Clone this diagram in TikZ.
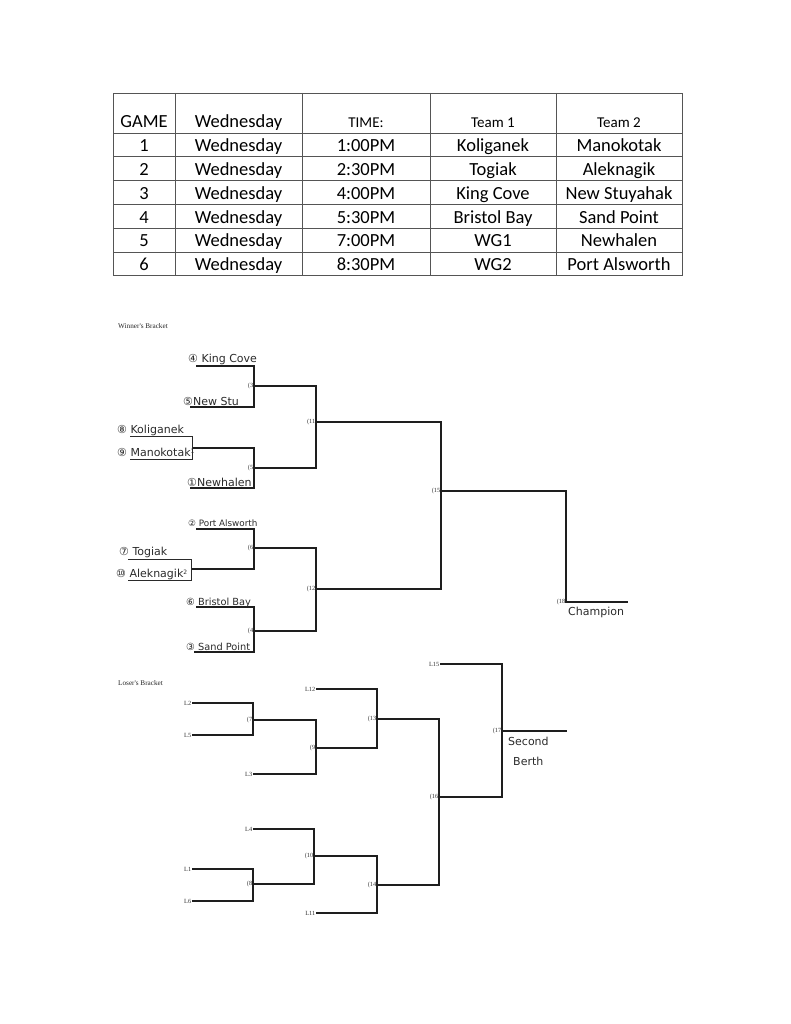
\documentclass[tikz,border=0pt]{standalone}
\usepackage{fontspec}
\setmainfont{Carlito}
\newfontfamily\handfont{DejaVu Sans}
\newfontfamily\tinyserif{Liberation Serif}
\definecolor{tblline}{HTML}{555555}
\definecolor{brline}{HTML}{1E1E1E}
\definecolor{handink}{HTML}{2A2A2A}
\begin{document}
\begin{tikzpicture}[x=1pt,y=-1pt,
  tbl/.style={draw=tblline,line width=0.8pt},
  cell/.style={anchor=base,inner sep=0pt,font=\fontsize{18.5}{20}\selectfont},
  hcell/.style={anchor=base,inner sep=0pt,font=\fontsize{15}{17}\selectfont},
  br/.style={draw=brline,line width=1.1pt},
  hl/.style={draw=handink,line width=0.8pt},
  gl/.style={anchor=east,inner sep=0.6pt,font=\tinyserif\fontsize{6.3}{7}\selectfont,text=black!80},
  hand/.style={anchor=base west,inner sep=0pt,text=handink,font=\handfont\fontsize{11}{12}\selectfont},
  ttl/.style={anchor=west,inner sep=0pt,font=\tinyserif\fontsize{7.2}{8}\selectfont,text=black!85}]
\useasboundingbox (0,0) rectangle (791,1024);
% ---------- table ----------
\draw[tbl] (113,93) rectangle (682,275.5);
\foreach \x in {175,302,430,556} \draw[tbl] (\x,93) -- (\x,275.5);
\foreach \y in {133,156.5,180,204,228,252} \draw[tbl] (113,\y) -- (682,\y);
\node[cell] (h1) at (144,128) {GAME};
\node[cell] (h2) at (238.5,128) {Wednesday};
\node[hcell] (h3) at (366,128) {TIME:};
\node[hcell] (h4) at (493,128) {Team 1};
\node[hcell] (h5) at (619,128) {Team 2};
\foreach \n/\t/\a/\b [count=\i] in {1/1:00PM/Koliganek/Manokotak,2/2:30PM/Togiak/Aleknagik,3/4:00PM/King Cove/New Stuyahak,4/5:30PM/Bristol Bay/Sand Point,5/7:00PM/WG1/Newhalen,6/8:30PM/WG2/Port Alsworth}{
  \pgfmathsetmacro{\yb}{152+23.75*(\i-1)}
  \node[cell] (r\i a) at (144,\yb) {\n};
  \node[cell] (r\i b) at (238.5,\yb) {Wednesday};
  \node[cell] (r\i c) at (366,\yb) {\t};
  \node[cell] (r\i d) at (493,\yb) {\a};
  \node[cell] (r\i e) at (619,\yb) {\b};
}
% ---------- winner's bracket ----------
\node[ttl] (wt) at (118,326) {Winner's Bracket};
\coordinate (g3) at (254,386);
\coordinate (g5) at (254,468);
\coordinate (g11) at (316,422);
\coordinate (g6) at (254,548);
\coordinate (g4) at (254,631);
\coordinate (g12) at (316,589);
\coordinate (g15) at (441,491);
\coordinate (g18) at (566,602);
\coordinate (champ) at (628,602);
\draw[br] (196,366) -- (254,366) -- (254,407) -- (190,407);
\draw[br] (192,448) -- (254,448) -- (254,488) -- (190,488);
\draw[br] (g3) -- (316,386) -- (316,468) -- (g5);
\draw[br] (196,529) -- (254,529) -- (254,569) -- (191,569);
\draw[br] (196,607) -- (254,607) -- (254,652) -- (194,652);
\draw[br] (g6) -- (316,548) -- (316,631) -- (g4);
\draw[br] (g11) -- (441,422) -- (441,589) -- (g12);
\draw[br] (g15) -- (566,491) -- (g18) -- (champ);
\foreach \g/\l in {g3/(3,g5/(5,g11/(11,g6/(6,g4/(4,g12/(12,g15/(15,g18/(18}
  \node[gl] (lab\g) at (\g) {\l};
% handwritten names
\node[hand] (kc) at (188,362) {④ King Cove};
\node[hand] (ns) at (183,405) {⑤New Stu};
\node[hand] (ko) at (117,433) {⑧ Koliganek};
\node[hand] (ma) at (117,456) {⑨ Manokotak\raisebox{3pt}{\fontsize{6}{6}\selectfont 1}};
\node[hand] (nh) at (187,486) {①Newhalen};
\node[hand,font=\handfont\fontsize{8.8}{10}\selectfont] (pa) at (188,526) {② Port Alsworth};
\node[hand] (to) at (119,555) {⑦ Togiak};
\node[hand] (al) at (116,577) {⑩ Aleknagik\raisebox{3pt}{\fontsize{6}{6}\selectfont 2}};
\node[hand,font=\handfont\fontsize{9.8}{11}\selectfont] (bb) at (186,605) {⑥ Bristol Bay};
\node[hand,font=\handfont\fontsize{9.8}{11}\selectfont] (sp) at (186,650) {③ Sand Point};
\node[hand] (ch) at (568,615) {Champion};
\draw[hl] (130,436) -- (192,436) -- (192,459) -- (130,459);
\draw[hl] (128,559) -- (191,559) -- (191,580) -- (128,580);
% ---------- loser's bracket ----------
\node[ttl] (lt) at (118,683) {Loser's Bracket};
\coordinate (s2) at (192,703);
\coordinate (s5) at (192,735);
\coordinate (s3) at (253,774);
\coordinate (s12) at (316,689);
\coordinate (s15) at (440,664);
\coordinate (s4) at (253,829);
\coordinate (s1) at (192,869);
\coordinate (s6) at (192,901);
\coordinate (s11) at (316,913);
\coordinate (k7) at (253,720);
\coordinate (k9) at (316,748);
\coordinate (k13) at (377,719);
\coordinate (k8) at (253,884);
\coordinate (k10) at (314,856);
\coordinate (k14) at (377,885);
\coordinate (k16) at (439,797);
\coordinate (k17) at (502,731);
\coordinate (sb) at (567,731);
\draw[br] (s2) -- (253,703) -- (253,735) -- (s5);
\draw[br] (k7) -- (316,720) -- (316,774) -- (s3);
\draw[br] (k9) -- (377,748) -- (377,689) -- (s12);
\draw[br] (k13) -- (439,719) -- (439,885) -- (k14);
\draw[br] (s1) -- (253,869) -- (253,901) -- (s6);
\draw[br] (k8) -- (314,884) -- (314,829) -- (s4);
\draw[br] (k10) -- (377,856) -- (377,913) -- (s11);
\draw[br] (k16) -- (502,797) -- (502,664) -- (s15);
\draw[br] (k17) -- (sb);
\foreach \g/\l in {k7/(7,k9/(9,k13/(13,k8/(8,k10/(10,k14/(14,k16/(16,k17/(17}
  \node[gl] (lab\g) at (\g) {\l};
\foreach \g/\l in {s2/L2,s5/L5,s3/L3,s12/L12,s15/L15,s4/L4,s1/L1,s6/L6,s11/L11}
  \node[gl] (lab\g) at (\g) {\l};
\node[hand] (sec) at (508,745) {Second};
\node[hand] (ber) at (513,765) {Berth};
\end{tikzpicture}
\end{document}
